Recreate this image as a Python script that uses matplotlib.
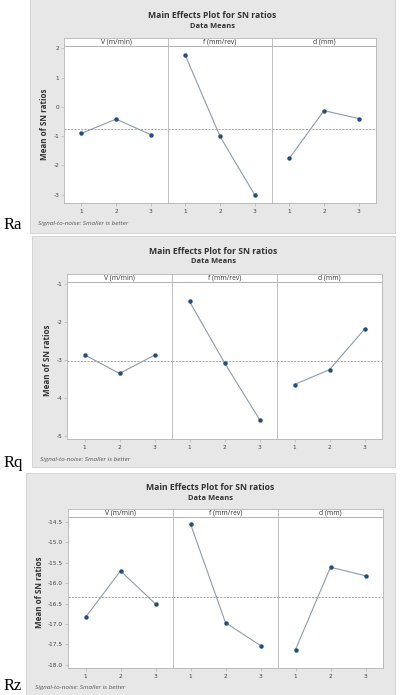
import numpy as np
import matplotlib
matplotlib.use("Agg")
import matplotlib.pyplot as plt
from matplotlib.patches import Rectangle

W, H = 401, 695

factors = ["V (m/min)", "f (mm/rev)", "d (mm)"]
levels = [1, 2, 3]

ra_v = [-0.91, -0.42, -0.95]
ra_f = [1.76, -1.01, -3.01]
ra_d = [-1.76, -0.13, -0.40]
ra_ticks = [-3, -2, -1, 0, 1, 2]

rq_v = [-2.86, -3.35, -2.87]
rq_f = [-1.46, -3.07, -4.56]
rq_d = [-3.64, -3.25, -2.19]
rq_ticks = [-5, -4, -3, -2, -1]

rz_v = [-16.84, -15.70, -16.51]
rz_f = [-14.55, -16.97, -17.53]
rz_d = [-17.63, -15.61, -15.82]
rz_ticks = [-18.0, -17.5, -17.0, -16.5, -16.0, -15.5, -15.0, -14.5]

line_col = '#8d9bab'
dot_col = '#1f4f7f'
grey_bg = '#e7e7e7'
edge_col = '#b4b4b4'

fig = plt.figure(figsize=(W / 100, H / 100), dpi=100)
fig.patch.set_facecolor('white')


def fx(x):
    return x / W


def fy(y):
    return 1 - y / H


def add_ax(x0, y0, x1, y1):
    # pixel box (top-left origin) -> figure axes
    return fig.add_axes([fx(x0), fy(y1), fx(x1) - fx(x0), fy(y0) - fy(y1)])


def panel(box, plot, strip_top, title_y, foot, tag, series, ylim, ticks, fmt):
    bx0, by0, bx1, by1 = box
    fig.patches.append(Rectangle((fx(bx0), fy(by1)), fx(bx1) - fx(bx0), fy(by0) - fy(by1),
                                 transform=fig.transFigure, facecolor=grey_bg,
                                 edgecolor='#d0d0d0', linewidth=0.6, zorder=-5))
    cx = (bx0 + bx1) / 2
    fig.text(fx(cx), fy(title_y), "Main Effects Plot for SN ratios", ha='center', va='center',
             fontsize=6.2, fontweight='bold', color='#333333', family='Open Sans')
    fig.text(fx(cx), fy(title_y + 10), "Data Means", ha='center', va='center',
             fontsize=5.4, fontweight='bold', color='#333333', family='Open Sans')

    px0, py0, px1, py1 = plot
    pw = (px1 - px0) / 3
    allvals = np.concatenate([np.array(s) for s in series])
    grand = allvals.mean()
    for i, (name, vals) in enumerate(zip(factors, series)):
        a0 = px0 + i * pw
        ax = add_ax(a0, py0, a0 + pw, py1)
        ax.set_facecolor('white')
        ax.axhline(grand, color='#999999', linestyle=(0, (2.5, 1.5)), linewidth=0.6, zorder=1)
        ax.plot(levels, vals, color=line_col, linewidth=0.8, zorder=2)
        ax.plot(levels, vals, 'o', color=dot_col, markersize=2.2, zorder=3)
        ax.set_xlim(0.5, 3.5)
        ax.set_ylim(*ylim)
        ax.set_xticks(levels)
        ax.set_xticklabels([str(l) for l in levels])
        ax.set_yticks(ticks)
        for s in ax.spines.values():
            s.set_color(edge_col)
            s.set_linewidth(0.6)
        ax.tick_params(axis='x', length=2, width=0.5, color=edge_col, labelsize=4.2,
                       labelcolor='#444444', pad=2)
        if i == 0:
            ax.set_yticklabels([fmt.format(t) for t in ticks])
            ax.tick_params(axis='y', length=2, width=0.5, color=edge_col, labelsize=4.2,
                           labelcolor='#444444', pad=1.5)
            ax.set_ylabel("Mean of SN ratios", fontsize=5.8, fontweight='bold',
                          color='#333333', labelpad=3, family='Open Sans')
        else:
            ax.tick_params(axis='y', left=False, labelleft=False)

        st = add_ax(a0, strip_top, a0 + pw, py0)
        st.set_facecolor('white')
        st.set_xticks([])
        st.set_yticks([])
        for s in st.spines.values():
            s.set_color(edge_col)
            s.set_linewidth(0.6)
        st.text(0.5, 0.5, name, transform=st.transAxes, ha='center', va='center',
                fontsize=4.9, color='#333333', family='Open Sans')

    fig.text(fx(foot[0]), fy(foot[1]), "Signal-to-noise: Smaller is better", ha='left',
             va='center', fontsize=4.6, style='italic', color='#555555', family='Open Sans')
    fig.text(fx(4), fy(tag[1]), tag[0], ha='left', va='center', fontsize=12,
             family='Liberation Serif', color='black')


panel((30, -2, 395, 233), (64, 46, 376, 203), 38, 16, (38, 223), ("Ra", 225),
      [ra_v, ra_f, ra_d], (-3.29, 2.08), ra_ticks, "{:d}")
panel((32, 236, 395, 467), (67, 282, 382, 439), 274, 252, (40, 459), ("Rq", 463),
      [rq_v, rq_f, rq_d], (-5.07, -0.95), rq_ticks, "{:d}")
panel((26, 473, 395, 700), (68, 517, 383, 668), 509, 488, (35, 687), ("Rz", 686),
      [rz_v, rz_f, rz_d], (-18.08, -14.38), rz_ticks, "{:.1f}")

fig.savefig("out.png", dpi=100)
